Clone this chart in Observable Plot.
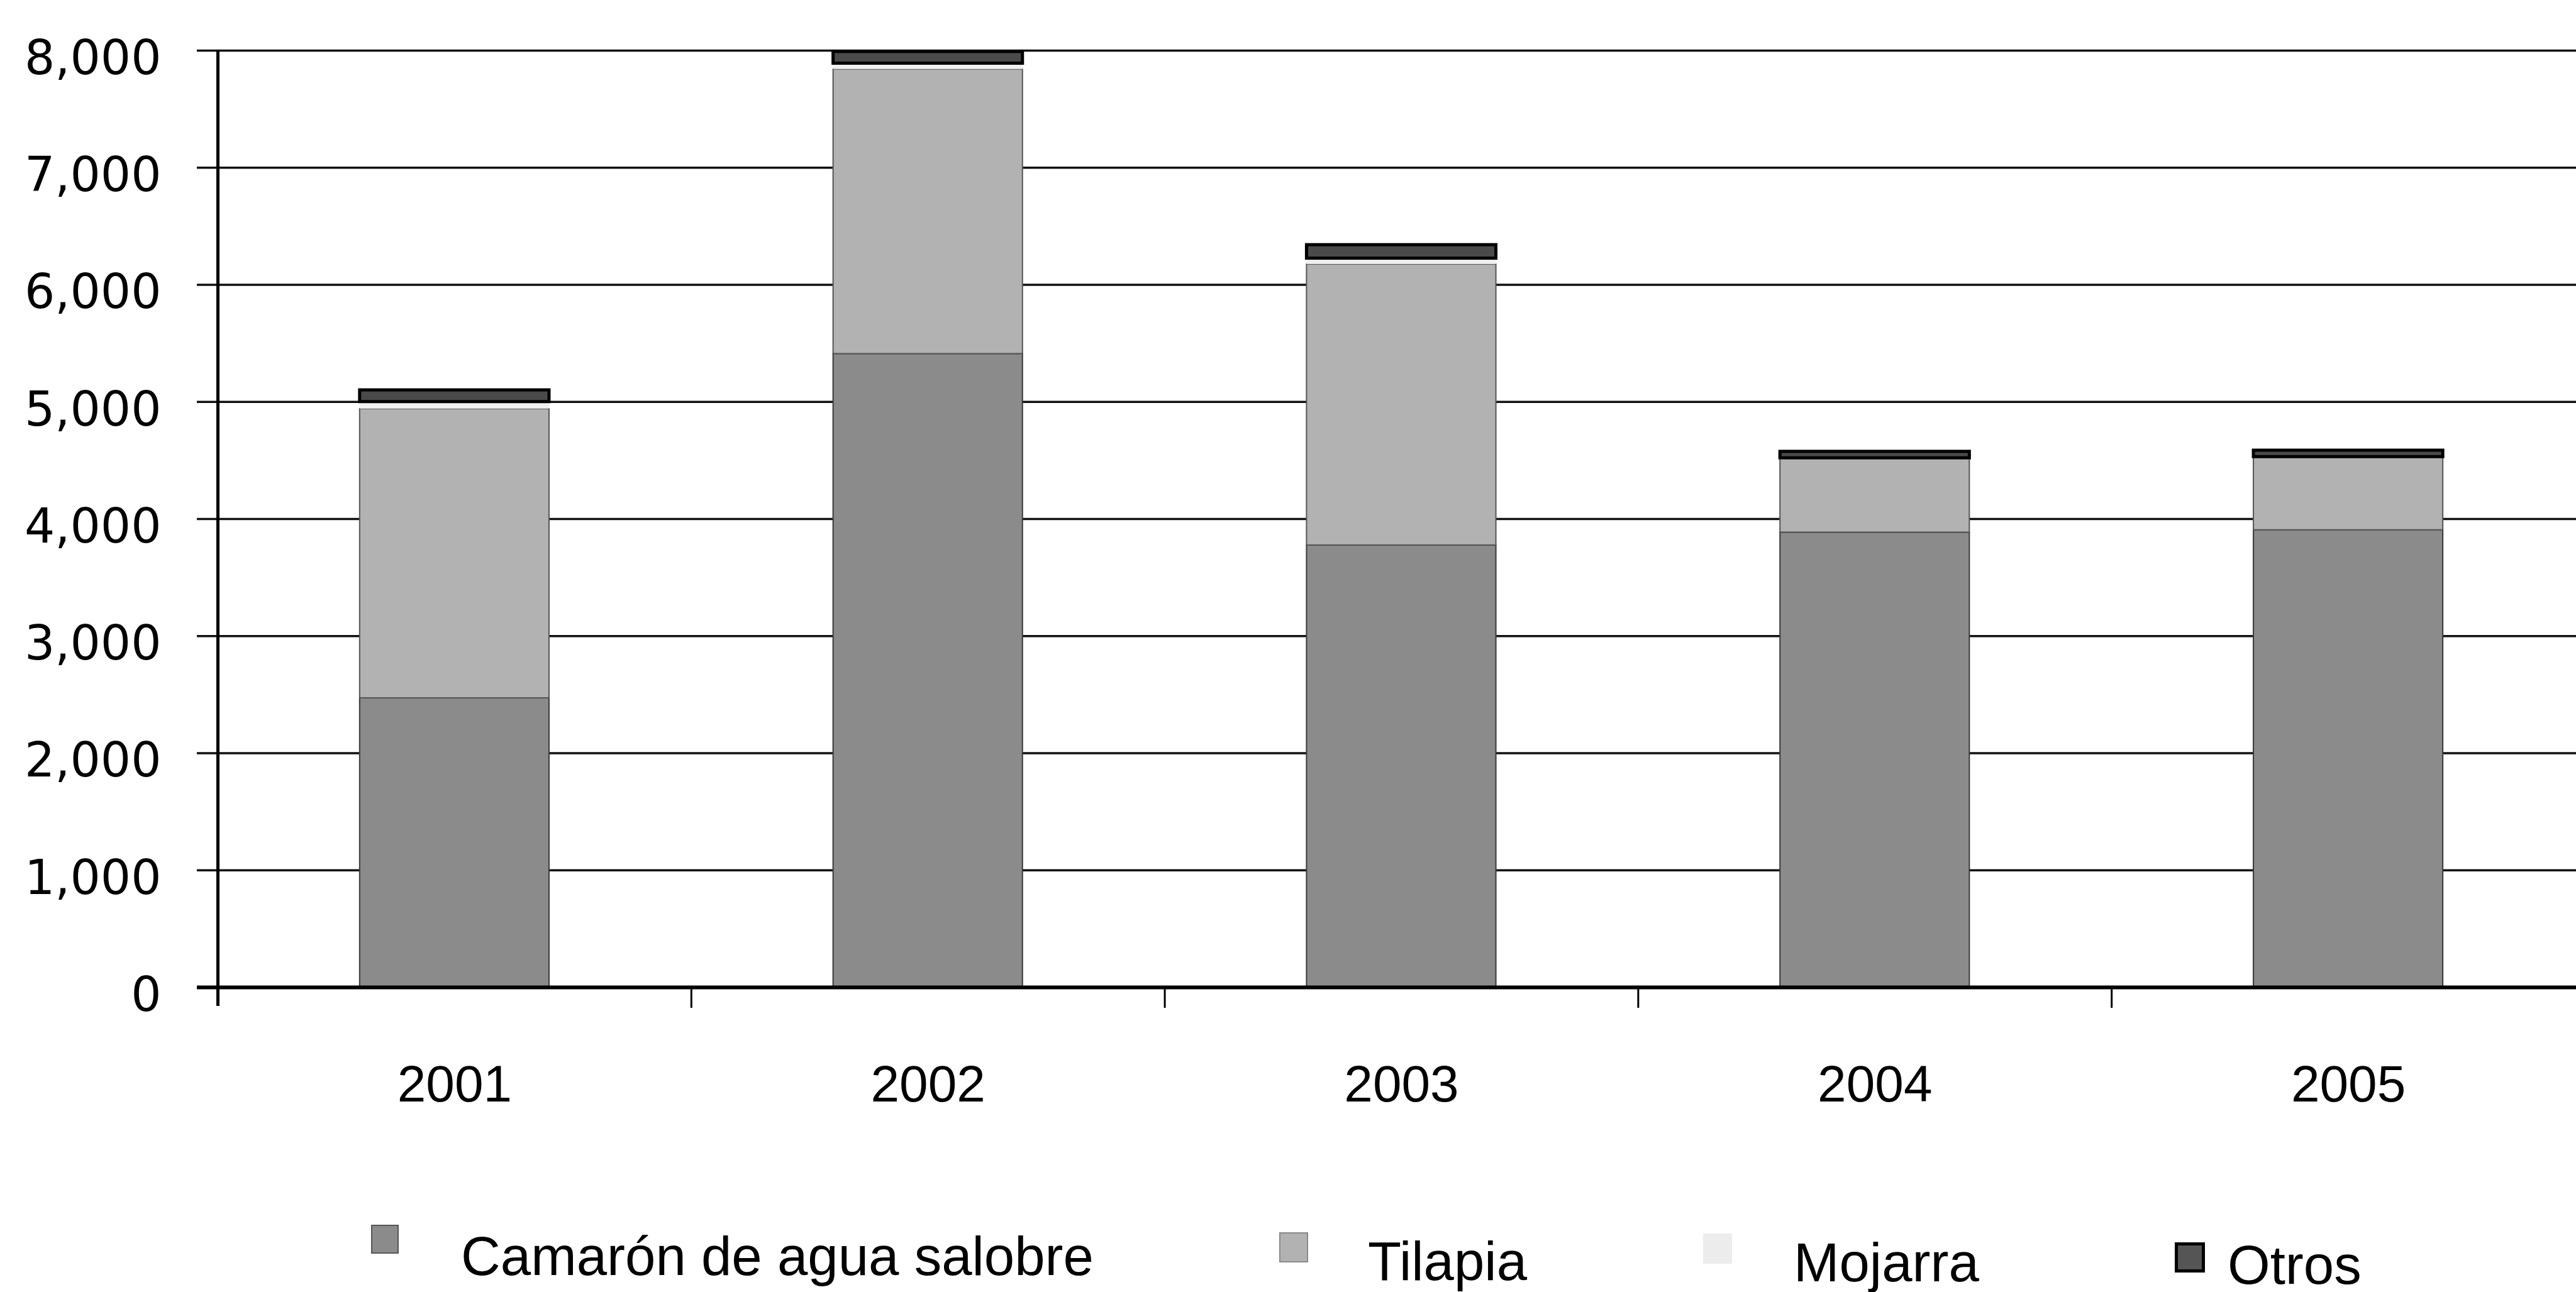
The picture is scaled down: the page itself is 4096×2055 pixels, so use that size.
<!DOCTYPE html>
<html>
<head>
<meta charset="utf-8">
<script src="https://cdn.jsdelivr.net/npm/d3@7"></script>
<script src="https://cdn.jsdelivr.net/npm/@observablehq/plot@0.6"></script>
<style>
  html, body { margin: 0; padding: 0; background: #fff; overflow: hidden; }
  #page { position: relative; width: 4096px; height: 2055px; }
  #chart { position: absolute; left: 0; top: 0; }
  #chart svg { display: block; }
  .lg-sw { position: absolute; box-sizing: border-box; }
  .lg-tx { position: absolute; font-family: "Liberation Sans", Arial, sans-serif; font-size: 87px; line-height: 60px; color: #000; white-space: nowrap; }
</style>
</head>
<body>
<div id="page">
  <div id="chart"></div>
  <div id="legend"></div>
</div>
<script>
// ---- data ----
const years = ["2001", "2002", "2003", "2004", "2005"];
const seriesNames = ["Camarón de agua salobre", "Tilapia", "Mojarra", "Otros"];
const camaron = [2470, 5410, 3775, 3885, 3905];
const tilapia = [2470, 2430, 2400, 635, 625];
const mojarra = [60, 50, 50, 0, 0];
const otros = [100, 100, 115, 55, 55];
const yTicks = [0, 1000, 2000, 3000, 4000, 5000, 6000, 7000, 8000];

// ---- styles ----
const fills = ["#8b8b8b", "#b2b2b2", "#f0f0f0", "#4a4a4a"];
const strokes = ["#3a3a3a", "#555555", "#f0f0f0", "#000000"];
const strokeWidths = [2, 2, 0, 5];

const values = [camaron, tilapia, mojarra, otros];
const rows = [];
years.forEach((yr, i) => {
  seriesNames.forEach((s, k) => rows.push({year: yr, series: s, value: values[k][i]}));
});
const sIndex = new Map(seriesNames.map((s, k) => [s, k]));

// ---- layout ----
const W = 4096, H = 1780;
const mL = 346, mR = -14, mT = 80, mB = 210;
const step = (W - mR - mL) / years.length;

const chart = Plot.plot({
  width: W,
  height: H,
  marginLeft: mL,
  marginRight: mR,
  marginTop: mT,
  marginBottom: mB,
  style: {background: "white", color: "black", fontFamily: "'Liberation Sans', Arial, sans-serif", overflow: "hidden"},
  x: {domain: years, paddingInner: 0.6, paddingOuter: 0.3, round: false, label: null},
  y: {domain: [0, d3.max(yTicks)], label: null},
  color: {type: "identity"},
  marks: [
    // gridlines (extend left as tick marks)
    Plot.ruleY(yTicks.filter(d => d !== 0), {stroke: "#111", strokeWidth: 3.5, insetLeft: -33}),
    // stacked bars
    Plot.barY(rows, Plot.stackY({
      x: "year",
      y: "value",
      fill: d => fills[sIndex.get(d.series)],
      stroke: d => strokes[sIndex.get(d.series)],
      strokeWidth: d => strokeWidths[sIndex.get(d.series)]
    })),
    // baseline (0)
    Plot.ruleY([0], {stroke: "#000", strokeWidth: 6, insetLeft: -33}),
    // y axis line
    Plot.ruleX([years[0]], {y1: d3.max(yTicks), y2: 0, insetBottom: -30, dx: -step / 2, stroke: "#000", strokeWidth: 5}),
    // category boundary ticks
    Plot.ruleX(years.slice(1), {y1: 0, y2: 0, insetBottom: -33, dx: -step / 2, stroke: "#000", strokeWidth: 3}),
    // axes labels
    Plot.axisY({ticks: yTicks, tickSize: 0, tickPadding: 90, tickFormat: d3.format(","), fontSize: 76, fontFamily: "DejaVu Sans", dy: 13}),
    Plot.axisX({tickSize: 0, tickPadding: 123, fontSize: 82, fontFamily: "'Liberation Sans', Arial, sans-serif"})
  ]
});
document.getElementById("chart").appendChild(chart);

// ---- legend (below the SVG area) ----
const legendLayout = [
  {sw: [590, 1948, 44, 46], tx: [733, 2028]},
  {sw: [2034, 1960, 46, 48], tx: [2175, 2036]},
  {sw: [2708, 1962, 46, 48], tx: [2852, 2038]},
  {sw: [3458, 1976, 48, 48], tx: [3542, 2042]}
];
const legendBorder = ["2px solid #555", "2px solid #8a8a8a", "0", "5px solid #000"];
const legendFill = ["#8b8b8b", "#b2b2b2", "#ececec", "#555555"];
const lg = document.getElementById("legend");
seriesNames.forEach((name, k) => {
  const L = legendLayout[k];
  const sw = document.createElement("div");
  sw.className = "lg-sw";
  sw.style.left = L.sw[0] + "px";
  sw.style.top = L.sw[1] + "px";
  sw.style.width = L.sw[2] + "px";
  sw.style.height = L.sw[3] + "px";
  sw.style.background = legendFill[k];
  sw.style.border = legendBorder[k];
  lg.appendChild(sw);
  const tx = document.createElement("div");
  tx.className = "lg-tx";
  tx.textContent = name;
  tx.style.left = L.tx[0] + "px";
  // baseline offset for line-height 60px: (60 - 1.117*87)/2 + 0.905*87 ≈ 60.1
  tx.style.top = (L.tx[1] - 60.1) + "px";
  lg.appendChild(tx);
});
</script>
</body>
</html>
